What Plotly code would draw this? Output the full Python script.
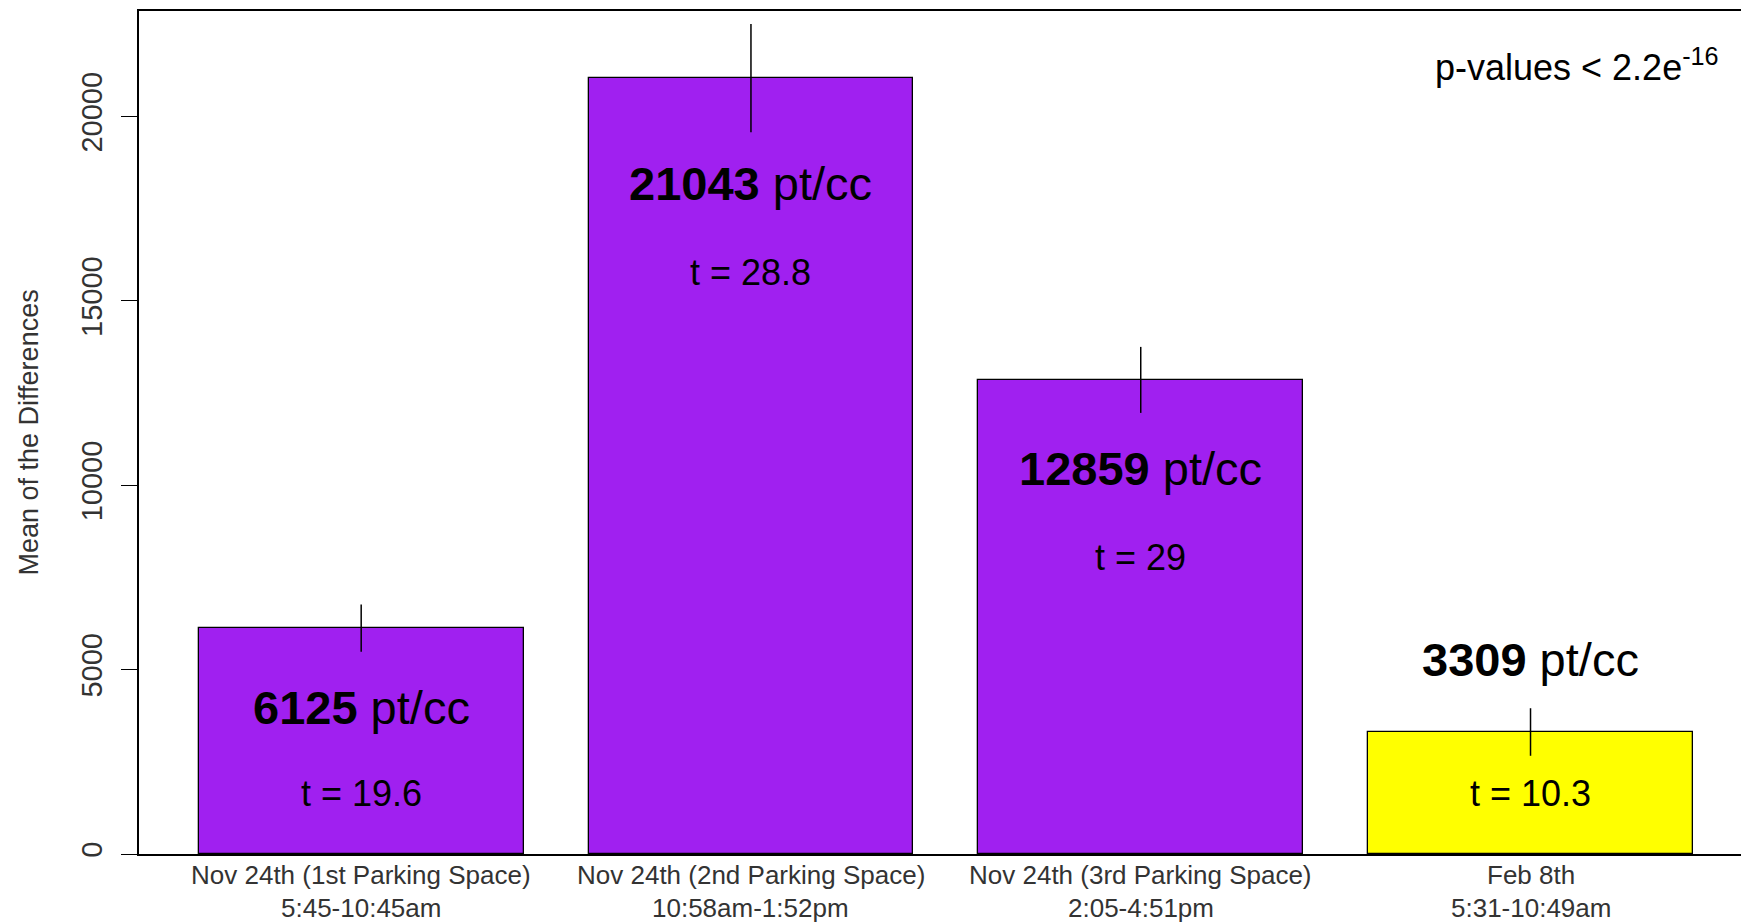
import plotly.graph_objects as go

# Mean particle-count differences per sampling session
category_names = [
    "Nov 24th (1st Parking Space)",
    "Nov 24th (2nd Parking Space)",
    "Nov 24th (3rd Parking Space)",
    "Feb 8th",
]
category_times = ["5:45-10:45am", "10:58am-1:52pm", "2:05-4:51pm", "5:31-10:49am"]
mean_diff = [6125, 21043, 12859, 3309]
error_half = [640, 1470, 895, 645]
t_values = ["19.6", "28.8", "29", "10.3"]
bar_colors = ["#A020F0", "#A020F0", "#A020F0", "#FFFF00"]
y_ticks = [0, 5000, 10000, 15000, 20000]

# Bar centres follow R barplot spacing (width 1, space 0.2)
centers = [0.7 + 1.2 * i for i in range(len(mean_diff))]

# Label heights (in data units) for the value and t-statistic annotations
value_label_y = [3980, 18190, 10450, 5270]
t_label_y = [1630, 15780, 8040, 1630]

FONT = "Liberation Sans, Arial, sans-serif"

W, H = 1741, 924
plot_left, plot_top, plot_bottom = 139, 11, 854
pw = W - plot_left
ph = plot_bottom - plot_top


def paper_y(px):
    """Pixel row (from the top of the page) to paper coordinates."""
    return (plot_bottom - px) / ph


fig = go.Figure()
fig.add_trace(go.Bar(
    x=centers,
    y=mean_diff,
    width=1.0,
    marker=dict(color=bar_colors, line=dict(color="black", width=1.3)),
    error_y=dict(type="data", array=error_half, visible=True,
                 color="black", thickness=1.5, width=0),
    hoverinfo="skip",
))

annotations = []
for xc, v, yv, t, yt in zip(centers, mean_diff, value_label_y, t_values, t_label_y):
    annotations.append(dict(
        x=xc, y=yv, xref="x", yref="y", showarrow=False,
        text=f"<b>{v}</b> pt/cc",
        font=dict(family=FONT, size=47, color="black"),
        xanchor="center", yanchor="middle",
    ))
    annotations.append(dict(
        x=xc, y=yt, xref="x", yref="y", showarrow=False,
        text=f"t = {t}",
        font=dict(family=FONT, size=36, color="black"),
        xanchor="center", yanchor="middle",
    ))

# two-line category labels under the bars
for xc, name, times in zip(centers, category_names, category_times):
    annotations.append(dict(
        x=xc, y=paper_y(875), xref="x", yref="paper", showarrow=False,
        text=name, font=dict(family=FONT, size=26, color="#333333"),
        xanchor="center", yanchor="middle",
    ))
    annotations.append(dict(
        x=xc, y=paper_y(908), xref="x", yref="paper", showarrow=False,
        text=times, font=dict(family=FONT, size=26, color="#333333"),
        xanchor="center", yanchor="middle",
    ))

# p-value note in the upper right corner
annotations.append(dict(
    x=(1721 - plot_left) / pw, y=paper_y(65),
    xref="paper", yref="paper", showarrow=False,
    text="p-values &lt; 2.2e<sup>-16</sup>",
    font=dict(family=FONT, size=36, color="black"),
    xanchor="right", yanchor="middle",
))

# y-axis title
annotations.append(dict(
    x=(28 - plot_left) / pw, y=0.5, xref="paper", yref="paper", showarrow=False,
    text="Mean of the Differences", textangle=-90,
    font=dict(family=FONT, size=27, color="#333333"),
    xanchor="center", yanchor="middle",
))

fig.update_layout(
    width=W, height=H,
    margin=dict(l=plot_left, r=0, t=plot_top, b=H - plot_bottom, pad=0),
    paper_bgcolor="white", plot_bgcolor="white",
    showlegend=False,
    annotations=annotations,
    bargap=0,
    xaxis=dict(
        range=[0.016, 4.948], automargin=False,
        showticklabels=False, ticks="", showgrid=False, zeroline=False,
        showline=True, linecolor="black", linewidth=1.5, mirror=True,
    ),
    yaxis=dict(
        range=[0, 22864], automargin=False,
        tickvals=y_ticks, ticktext=[str(v) for v in y_ticks],
        ticks="outside", ticklen=16, tickwidth=1.3, tickcolor="black",
        tickangle=-90,
        showgrid=False, zeroline=False,
        showline=True, linecolor="black", linewidth=1.5, mirror=False,
        tickfont=dict(family=FONT, size=29, color="#333333"),
        ticklabelstandoff=8,
    ),
)

fig.write_html("out.html")
